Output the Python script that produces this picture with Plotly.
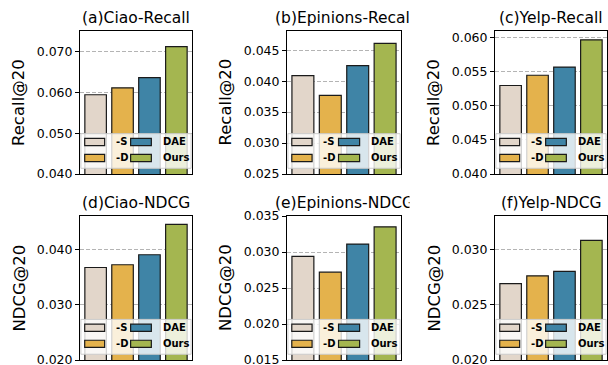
import plotly.graph_objects as go

categories = ["-S", "-D", "DAE", "Ours"]
colors = ["#e2d6ca", "#e4b24c", "#3f84a6", "#a4b650"]

titles = ["(a)Ciao-Recall", "(b)Epinions-Recall", "(c)Yelp-Recall",
          "(d)Ciao-NDCG", "(e)Epinions-NDCG", "(f)Yelp-NDCG"]
ylabels = ["Recall@20", "Recall@20", "Recall@20", "NDCG@20", "NDCG@20", "NDCG@20"]

ciao_recall = [0.0594, 0.0611, 0.0636, 0.0712]
epinions_recall = [0.0409, 0.0377, 0.0425, 0.0461]
yelp_recall = [0.0530, 0.0545, 0.0557, 0.0597]
ciao_ndcg = [0.0367, 0.0372, 0.0390, 0.0445]
epinions_ndcg = [0.0294, 0.0272, 0.0311, 0.0335]
yelp_ndcg = [0.0269, 0.0276, 0.0280, 0.0308]
series = [ciao_recall, epinions_recall, yelp_recall, ciao_ndcg, epinions_ndcg, yelp_ndcg]

y_ranges = [[0.040, 0.075], [0.025, 0.0481], [0.040, 0.0610],
            [0.020, 0.0460], [0.015, 0.035], [0.020, 0.0330]]
y_ticks = [[0.040, 0.050, 0.060, 0.070],
           [0.025, 0.030, 0.035, 0.040, 0.045],
           [0.040, 0.045, 0.050, 0.055, 0.060],
           [0.020, 0.030, 0.040],
           [0.015, 0.020, 0.025, 0.030, 0.035],
           [0.020, 0.025, 0.030]]

W, H = 608, 365
col_px = [(80, 192), (287, 401), (495, 607)]
row_px = [(31, 174), (216, 360)]
ylabel_x = [18.5, 225, 433.5]


def px(v):
    return v / W


def py(v):
    return 1 - v / H


fig = go.Figure()
FONT = "DejaVu Sans"
annotations = []
shapes = []

for i in range(6):
    r, c = divmod(i, 3)
    n = "" if i == 0 else str(i + 1)
    xa, ya = "x" + n, "y" + n
    x0, x1 = col_px[c]
    t0, t1 = row_px[r]
    fig.add_trace(go.Bar(
        x=categories, y=series[i], xaxis=xa, yaxis=ya, width=0.8,
        marker=dict(color=colors, line=dict(color="#1a1a1a", width=1.2)),
        showlegend=False, hoverinfo="skip"))
    xd = dict(domain=[px(x0), px(x1)], anchor=ya, range=[-0.58, 3.58],
              showticklabels=False, ticks="", showgrid=False,
              showline=True, mirror=True, linecolor="black", linewidth=1,
              zeroline=False, fixedrange=True, automargin=False)
    yd = dict(domain=[py(t1), py(t0)], anchor=xa, range=y_ranges[i],
              tickvals=y_ticks[i], tickformat=".3f", ticks="outside",
              ticklen=4, tickcolor="black", tickwidth=1,
              tickfont=dict(family=FONT, size=12.5, color="black"),
              ticklabeloverflow="allow",
              showgrid=True, gridcolor="#b4b4b4", griddash="4px,2px", gridwidth=1,
              showline=True, mirror=True, linecolor="black", linewidth=1,
              zeroline=False, fixedrange=True, automargin=False)
    fig.layout["xaxis" + n] = xd
    fig.layout["yaxis" + n] = yd

    # title
    annotations.append(dict(text=titles[i], xref="paper", yref="paper",
                            x=px((x0 + x1) / 2), y=py(t0 - 13),
                            xanchor="center", yanchor="middle", showarrow=False,
                            font=dict(family=FONT, size=15.5, color="black")))
    # y label
    annotations.append(dict(text=ylabels[i], xref="paper", yref="paper",
                            x=px(ylabel_x[c]), y=py((t0 + t1) / 2),
                            textangle=-90, xanchor="center", yanchor="middle",
                            showarrow=False,
                            font=dict(family=FONT, size=16.5, color="black")))

    # legend
    xr, yr = xa + " domain", ya + " domain"
    shapes.append(dict(type="rect", xref=xr, yref=yr, x0=0.008, x1=0.992,
                       y0=0.04, y1=0.282, fillcolor="rgba(255,255,255,0.8)",
                       line=dict(color="#cccccc", width=1), layer="above"))
    rows_y = [0.224, 0.112]
    cols_x = [(0.042, 0.22, 0.30), (0.452, 0.637, 0.72)]
    for k, name in enumerate(categories):
        cc, rr = divmod(k, 2)
        lx0, lx1, tx = cols_x[cc]
        yc = rows_y[rr]
        shapes.append(dict(type="rect", xref=xr, yref=yr, x0=lx0, x1=lx1,
                           y0=yc - 0.025, y1=yc + 0.025, fillcolor=colors[k],
                           line=dict(color="#1a1a1a", width=1.2), layer="above"))
        annotations.append(dict(text="<b>" + name + "</b>", xref=xr, yref=yr,
                                x=tx, y=yc, xanchor="left", yanchor="middle",
                                showarrow=False,
                                font=dict(family=FONT, size=10, color="black")))

# mask for the clipped title overflow in the middle column
for r in range(2):
    t0 = row_px[r][0]
    annotations.append(dict(text="", xref="paper", yref="paper",
                            x=px(409), y=py(t0 - 14), xanchor="left",
                            yanchor="middle", width=12, height=22,
                            bgcolor="white", showarrow=False))

fig.update_layout(width=W, height=H, margin=dict(l=0, r=0, t=0, b=0, autoexpand=False),
                  plot_bgcolor="white", paper_bgcolor="white",
                  annotations=annotations, shapes=shapes,
                  font=dict(family=FONT), bargap=0.2, hovermode=False)

fig.write_html("out.html",
               config={"displayModeBar": False, "staticPlot": True},
               post_script="document.body.style.margin='0';"
                           "document.body.style.overflow='hidden';")
